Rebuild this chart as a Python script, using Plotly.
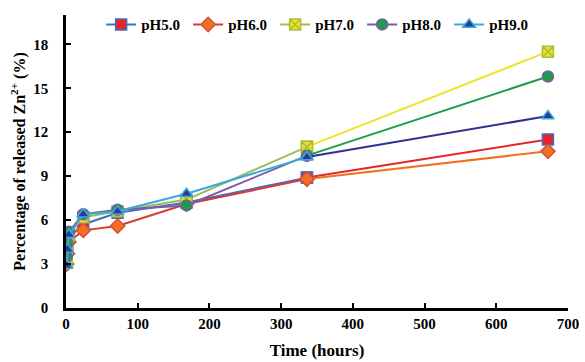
import plotly.graph_objects as go

time_h = [1, 2, 4, 24, 72, 168, 336, 672]
series_names = ["pH5.0", "pH6.0", "pH7.0", "pH8.0", "pH9.0"]
ph5 = [3.3, 4.0, 4.8, 5.7, 6.5, 7.2, 8.9, 11.5]
ph6 = [3.0, 3.7, 4.5, 5.3, 5.6, 7.1, 8.8, 10.7]
ph7 = [3.4, 4.3, 5.0, 6.2, 6.6, 7.4, 11.0, 17.5]
ph8 = [3.5, 4.4, 5.2, 6.4, 6.7, 7.0, 10.4, 15.8]
ph9 = [2.9, 4.0, 5.0, 6.4, 6.6, 7.8, 10.3, 13.1]
values = [ph5, ph6, ph7, ph8, ph9]
x_ticks = [0, 100, 200, 300, 400, 500, 600, 700]
y_ticks = [0, 3, 6, 9, 12, 15, 18]

line_cols = ["#3F6FC4", "#D63B35", "#9BBB59", "#7D5BA6", "#3BA9DA"]
last_cols = ["#E8242A", "#F27021", "#F2E22A", "#1E9C48", "#2E3192"]
fill_cols = ["#E8242A", "#F27021", "#EDE325", "#1E9C48", "#2B3A9C"]
edge_cols = ["#3F6FC4", "#D8503A", "#A9BE3A", "#7D5BA6", "#3BA9DA"]
symbols = ["square", "diamond", "square-x", "circle", "triangle-up"]

fig = go.Figure()
for i, name in enumerate(series_names):
    ys = values[i]
    mk = dict(symbol=symbols[i], size=11, color=fill_cols[i],
              line=dict(color=edge_cols[i], width=1.5))
    fig.add_trace(go.Scatter(x=time_h[:-1], y=ys[:-1], mode="lines+markers",
                             name=name, legendgroup=name,
                             line=dict(color=line_cols[i], width=2), marker=mk))
for i, name in enumerate(series_names):
    ys = values[i]
    mk = dict(symbol=symbols[i], size=11, color=fill_cols[i],
              line=dict(color=edge_cols[i], width=1.5))
    fig.add_trace(go.Scatter(x=time_h[-2:], y=ys[-2:], mode="lines+markers",
                             name=name, legendgroup=name, showlegend=False,
                             line=dict(color=last_cols[i], width=2), marker=mk))

font_fam = "Liberation Serif"
fig.update_layout(
    width=585, height=362,
    margin=dict(l=66, r=17, t=8, b=54),
    plot_bgcolor="white", paper_bgcolor="white",
    font=dict(family=font_fam, size=15, color="black", weight="bold"),
    showlegend=True,
    legend=dict(orientation="h", x=0.07, y=0.967, xanchor="left", yanchor="middle",
                font=dict(size=15, family=font_fam, weight="bold"),
                bgcolor="rgba(255,255,255,0)", entrywidth=42, entrywidthmode="pixels",
                itemwidth=30, tracegroupgap=0),
    xaxis=dict(range=[0, 700], tickvals=x_ticks, ticks="inside", ticklen=5, tickwidth=2,
               tickcolor="black", showline=True, linecolor="black", linewidth=2.5,
               showgrid=False, zeroline=False, automargin=False,
               ticklabelstandoff=0,
               title=dict(text="Time (hours)", font=dict(size=17, weight="bold"), standoff=14),
               tickfont=dict(size=15, weight="bold")),
    yaxis=dict(range=[0, 20], tickvals=y_ticks, ticks="inside", ticklen=5, tickwidth=2,
               tickcolor="black", showline=True, linecolor="black", linewidth=2.5,
               showgrid=False, zeroline=False, automargin=False,
               ticklabelstandoff=12,
               title=dict(text="Percentage of released Zn<sup>2+</sup> (%)",
                          font=dict(size=16, weight="bold"), standoff=4),
               tickfont=dict(size=15, weight="bold")),
)
fig.write_html("out.html", config={"displayModeBar": False},
               post_script="document.body.style.margin='0';")
